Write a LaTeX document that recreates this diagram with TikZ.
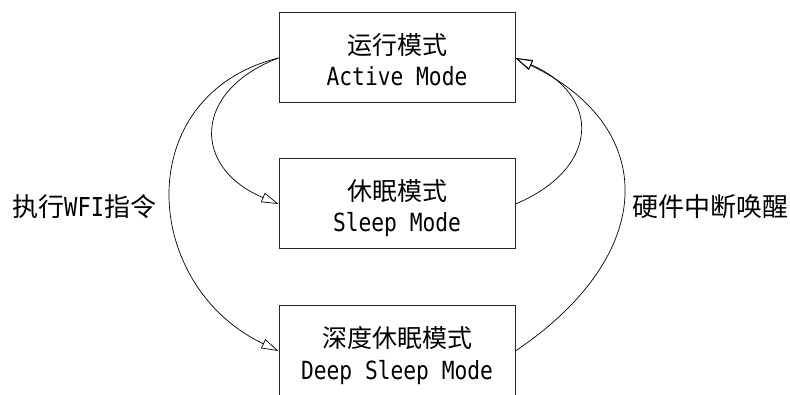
\documentclass[tikz,border=0pt]{standalone}
\usepackage{fontspec}
\usetikzlibrary{arrows.meta}
\newfontfamily\cjkfont{Noto Sans CJK SC}
\newfontfamily\monofont[FakeStretch=0.85]{DejaVu Sans Mono}
\begin{document}
\begin{tikzpicture}[x=1pt,y=-1pt,
  modebox/.style={draw=black!85, line width=1pt, minimum width=236pt, minimum height=90pt, inner sep=0pt},
  cjktext/.style={anchor=base, font=\cjkfont\fontsize{25}{30}\selectfont, inner sep=0pt},
  entext/.style={anchor=base, font=\monofont\fontsize{25}{30}\selectfont, inner sep=0pt},
  lbltext/.style={anchor=base west, font=\cjkfont\fontsize{26}{30}\selectfont, inner sep=0pt},
  trans/.style={line width=0.7pt, -{Triangle[open,length=17pt,width=10pt]}}]
\useasboundingbox (0,0) rectangle (790,395);
% boxes
\node[modebox] (act) at (397,58) {};
\node[modebox] (slp) at (397,204) {};
\node[modebox] (dp) at (397,351) {};
% box texts
\node[cjktext] (actc) at (397,55) {运行模式};
\node[entext] (acte) at (397,86) {Active Mode};
\node[cjktext] (slpc) at (397,201) {休眠模式};
\node[entext] (slpe) at (397,232) {Sleep Mode};
\node[cjktext] (dpc) at (397,348) {深度休眠模式};
\node[entext] (dpe) at (397,379) {Deep Sleep Mode};
% labels
\node[lbltext] (lblL) at (12,217) {执行{\monofont WFI}指令};
\node[lbltext] (lblR) at (632,217) {硬件中断唤醒};
% transitions
\draw[trans] (act.west) .. controls (192,91) and (192,168) .. (slp.west);
\draw[trans] (act.west) .. controls (130,95) and (140,285) .. (dp.west);
\draw[trans] (slp.east) .. controls (601,168) and (601,95) .. (act.east);
\draw[trans] (dp.east) .. controls (659,254) and (659,127) .. (act.east);
\end{tikzpicture}
\end{document}
